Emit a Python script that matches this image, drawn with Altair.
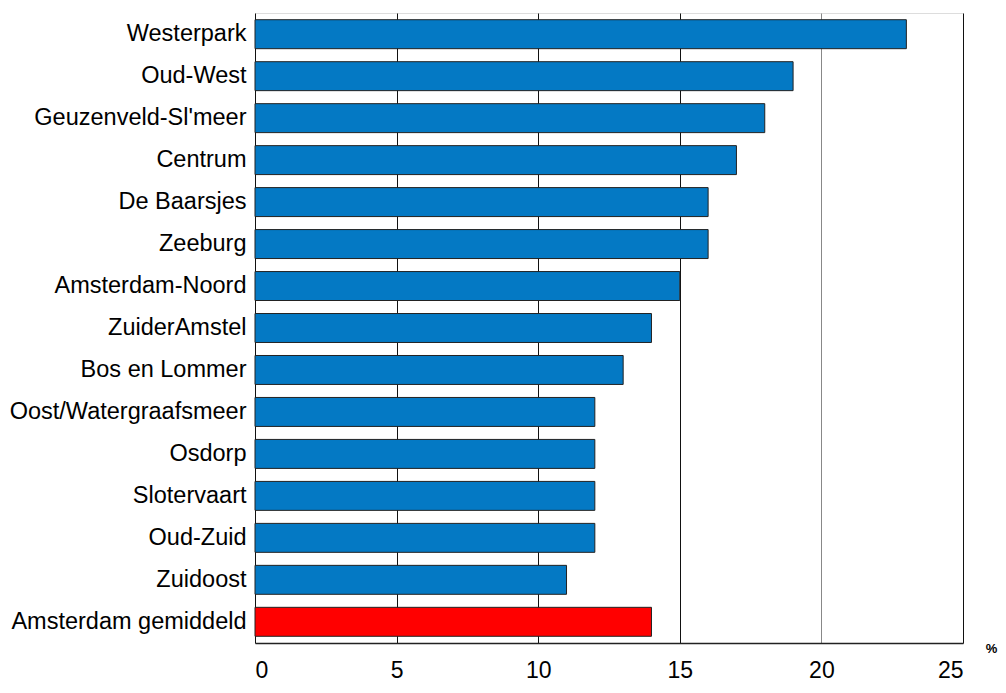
import altair as alt
import pandas as pd

categories = ["Westerpark", "Oud-West", "Geuzenveld-Sl'meer", "Centrum", "De Baarsjes",
              "Zeeburg", "Amsterdam-Noord", "ZuiderAmstel", "Bos en Lommer",
              "Oost/Watergraafsmeer", "Osdorp", "Slotervaart", "Oud-Zuid", "Zuidoost",
              "Amsterdam gemiddeld"]
values = [23, 19, 18, 17, 16, 16, 15, 14, 13, 12, 12, 12, 12, 11, 14]
groups = ["stadsdeel"] * 14 + ["gemiddeld"]
x_ticks = [0, 5, 10, 15, 20, 25]

df = pd.DataFrame({"cat": categories, "val": values, "grp": groups})

chart = alt.Chart(df).mark_bar(stroke="#222222", strokeWidth=1).encode(
    y=alt.Y("cat:N", sort=categories, title=None,
            scale=alt.Scale(paddingInner=0.31, paddingOuter=0.16),
            axis=alt.Axis(labelFont="Liberation Sans", labelFontSize=23.5, labelColor="black",
                          ticks=False, domain=False, labelPadding=9, labelLimit=300)),
    x=alt.X("val:Q", title="%",
            scale=alt.Scale(domain=[0, 25], nice=False),
            axis=alt.Axis(values=x_ticks, labelFont="Liberation Sans",
                          labelFontSize=23, labelColor="black", ticks=False,
                          labelPadding=16, domainColor="#222222", domainWidth=1.5,
                          grid=True,
                          gridColor={"condition": {"test": "datum.value == 20", "value": "#888888"}, "value": "#111111"},
                          gridOpacity=1,
                          titleFont="Liberation Sans", titleFontSize=13, titleFontWeight="bold",
                          titleColor="black", titleX=736, titleY=5, titleBaseline="middle",
                          titleAlign="center", titleAnchor="start")),
    color=alt.Color("grp:N", scale=alt.Scale(domain=["stadsdeel", "gemiddeld"],
                                             range=["#0479C4", "#FF0000"]), legend=None),
).properties(
    width=708, height=630,
    autosize=alt.AutoSizeParams(type="none"),
    padding={"left": 247, "top": 5, "right": 35, "bottom": 38},
).configure_view(stroke="#111111", strokeWidth=1.2).configure(background="white")

chart.save("out.html", embed_options={"renderer": "svg", "actions": False})
